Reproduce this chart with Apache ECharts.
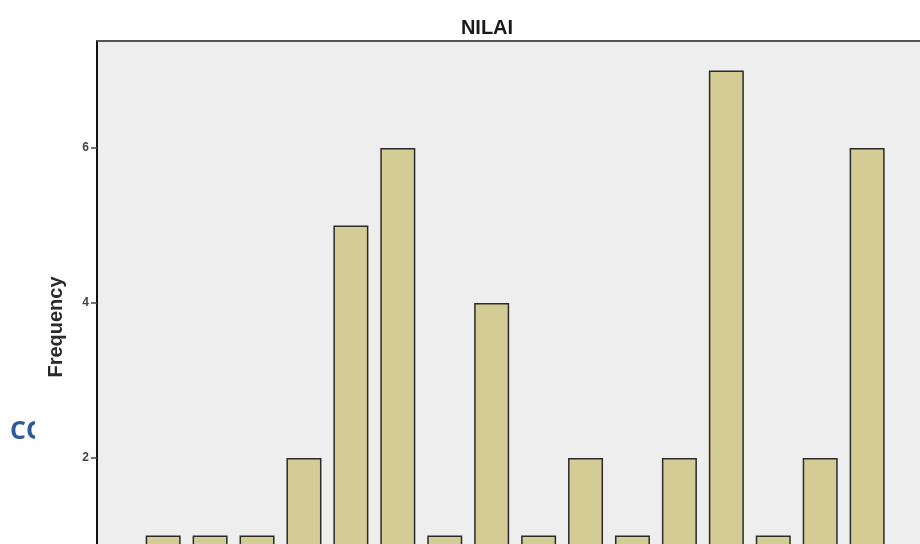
<!DOCTYPE html>
<html>
<head>
<meta charset="utf-8">
<script src="https://cdn.jsdelivr.net/npm/echarts@6/dist/echarts.min.js"></script>
<style>
  html, body { margin: 0; padding: 0; background: #fff; }
  #chart { width: 920px; height: 544px; }
</style>
</head>
<body>
<div id="chart"></div>
<script>
// bar order along the x axis (category labels are cut off in the picture)
const barIndex = [0, 1, 2, 3, 4, 5, 6, 7, 8, 9, 10, 11, 12, 13, 14, 15];
const frequency = [1, 1, 1, 2, 5, 6, 1, 4, 1, 2, 1, 2, 7, 1, 2, 6];
const yTicks = [2, 4, 6];

const chart = echarts.init(document.getElementById("chart"), null, {
  renderer: "canvas",
});

const option = {
  animation: false,
  title: {
    text: "NILAI",
    left: 482,
    top: 13,
    textAlign: "center",
    textStyle: {
      fontFamily: "Liberation Sans",
      fontSize: 20,
      fontWeight: "bold",
      color: "#1a1a1a",
    },
  },
  grid: {
    left: 97,
    top: 41,
    width: 864,
    height: 572,
    outerBoundsMode: "none",
    containLabel: false,
    show: true,
    backgroundColor: "#eeeeee",
    borderWidth: 0,
  },
  xAxis: {
    type: "value",
    min: -1.41,
    max: 17,
    axisLine: { show: false },
    axisTick: { show: false },
    axisLabel: { show: false },
    splitLine: { show: false },
  },
  yAxis: {
    type: "value",
    min: 0,
    max: 7.38,
    interval: 2,
    name: "Frequency",
    nameLocation: "middle",
    nameGap: 31,
    nameTextStyle: {
      fontFamily: "Liberation Sans",
      fontSize: 20,
      fontWeight: "bold",
      color: "#2a2a2a",
    },
    axisLine: { show: true, onZero: false, lineStyle: { color: "#111", width: 2 } },
    axisTick: {
      show: true,
      length: 6,
      customValues: yTicks,
      lineStyle: { color: "#444", width: 1.5 },
    },
    axisLabel: {
      margin: 8,
      customValues: yTicks,
      fontFamily: "Liberation Sans",
      fontSize: 12,
      fontWeight: "bold",
      color: "#444",
    },
    splitLine: { show: false },
  },
  series: [
    {
      type: "bar",
      barWidth: 35,
      data: barIndex.map((i) => [i, frequency[i]]),
      itemStyle: {
        color: "#d3cc95",
        borderColor: "#2b2b2b",
        borderWidth: 1.5,
      },
    },
    {
      // top frame line of the plot area
      type: "line",
      data: [],
      markLine: {
        silent: true,
        symbol: "none",
        label: { show: false },
        lineStyle: { color: "#555", width: 2, type: "solid" },
        data: [{ yAxis: 7.38 }],
      },
    },
  ],
  graphic: [
    {
      type: "text",
      left: 10,
      top: 419,
      z: 10,
      style: {
        text: "CO",
        font: "bold 25px 'Open Sans'",
        fill: "#2e5b97",
      },
    },
    {
      type: "rect",
      shape: { x: 35, y: 410, width: 20, height: 45 },
      style: { fill: "#fff" },
      z: 11,
    },
  ],
};
chart.setOption(option);
</script>
</body>
</html>
